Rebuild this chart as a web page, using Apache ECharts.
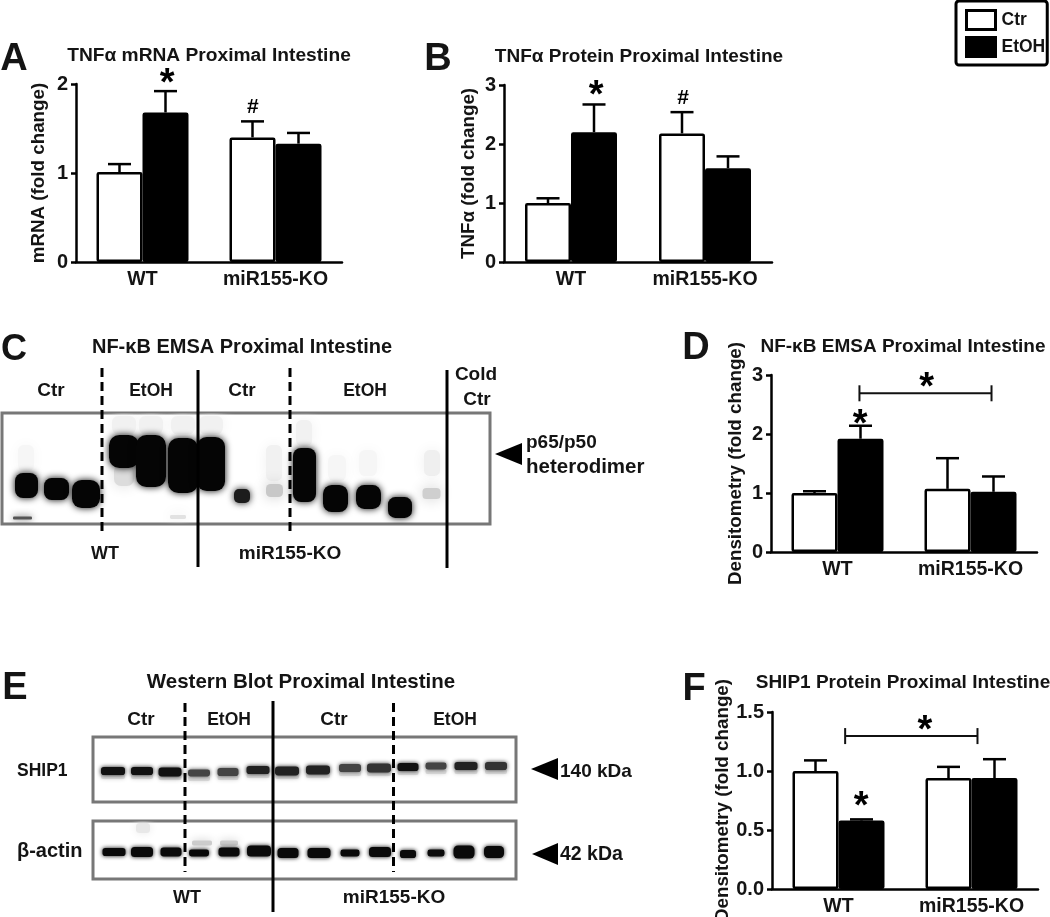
<!DOCTYPE html>
<html><head><meta charset="utf-8">
<style>html,body{margin:0;padding:0;background:#fff}#c{width:1050px;height:917px}</style>
<script src="https://cdn.jsdelivr.net/npm/echarts@6/dist/echarts.min.js"></script>
</head><body><div id="c"></div>
<script>
const categories = ['WT', 'miR155-KO'];
const seriesNames = ['Ctr', 'EtOH'];

// Bar values [WT, KO], and top of the error bars
const aCtr = [1.01, 1.40], aEtoh = [1.68, 1.33], aCtrErr = [1.10, 1.58], aEtohErr = [1.92, 1.45];
const bCtr = [1.00, 2.18], bEtoh = [2.20, 1.59], bCtrErr = [1.08, 2.54], bEtohErr = [2.67, 1.79];
const dCtr = [1.00, 1.07], dEtoh = [1.92, 1.02], dCtrErr = [1.03, 1.59], dEtohErr = [2.14, 1.28];
const fCtr = [1.00, 0.94], fEtoh = [0.58, 0.94], fCtrErr = [1.09, 1.035], fEtohErr = [0.59, 1.10];

// significance marks: [position between categories, value, text]
const aMarks = [[0.186, 2.09, '*'], [0.83, 1.74, '#']];
const bMarks = [[0.187, 2.95, '*'], [0.836, 2.78, '#']];
const dMarks = [[0.17, 2.29, '*'], [0.67, 2.92, '*']];
const fMarks = [[0.17, 0.77, '*'], [0.65, 1.41, '*']];
// brackets: [from, to, value]
const dBracket = [[0.165, 1.158, 2.69]];
const fBracket = [[0.05, 1.045, 1.296]];

// blot bands: [lane position, migration, width, height, grey level]
const emsaBands = [
 [122,12,24,18,'#f1f1f1'],[149,12,24,18,'#f1f1f1'],[181,12,24,18,'#f1f1f1'],[209,12,24,18,'#f1f1f1'],
 [24,45,16,26,'#f6f6f6'],[272,50,16,36,'#f1f1f1'],[302,20,16,26,'#f1f1f1'],[335,55,18,26,'#f6f6f6'],
 [366,50,18,26,'#f6f6f6'],[430,50,16,26,'#efefef'],[122,62,20,22,'#dcdcdc'],[176,104,16,4,'#e2e2e2'],
 [24.5,72.5,23,25,'#050505'],[54.5,76,25,22,'#050505'],[84,81,28,28,'#050505'],
 [122,38.5,30,33,'#050505'],[149,48,30,52,'#050505'],[181,52.5,30,55,'#050505'],[209,51,28,54,'#050505'],
 [240,83,16,14,'#1c1c1c'],[272.5,77.5,17,13,'#c8c8c8'],[302.5,62,23,54,'#050505'],
 [333.5,85.5,25,27,'#050505'],[366.5,84,25,24,'#050505'],[398,94.5,24,21,'#050505'],[429.5,80.5,18,11,'#cfcfcf'],
 [20.5,105,19,3,'#555555']
];
const shipBands = [
 [20,34,24,6,'#111'],[49,34,22,6,'#111'],[77,35,23,7,'#111'],[106,36,22,5,'#444'],[135,35,21,6,'#444'],
 [165,33,23,6,'#222'],[194,34,24,7,'#222'],[225,33,24,7,'#222'],[257,31,22,6,'#444'],[286,31,24,7,'#333'],
 [315,30,21,6,'#111'],[343,29,21,5,'#444'],[373,29,23,6,'#222'],[403,29,22,6,'#333']
];
const actinBands = [
 [50,7,14,8,'#e8e8e8'],[109,22,20,3,'#cccccc'],[136,22,18,3,'#cccccc'],
 [21,31,23,6,'#0a0a0a'],[49,31,22,8,'#0a0a0a'],[78,31,21,7,'#0a0a0a'],[106,32,20,5,'#0a0a0a'],
 [136,31,21,7,'#0a0a0a'],[166,30,24,9,'#0a0a0a'],[195,32,21,8,'#0a0a0a'],[226,32,23,8,'#0a0a0a'],
 [257,32,19,5,'#0a0a0a'],[287,31,22,8,'#0a0a0a'],[315,33,16,6,'#0a0a0a'],[343,32,17,5,'#0a0a0a'],
 [371,31,21,11,'#0a0a0a'],[401,31,20,10,'#0a0a0a']
];

const FONT = '"Liberation Sans", Arial, sans-serif';
const INK = '#141414';

const panels = [
 {left:76, top:84, width:266, height:178, max:2, interval:1, gap:28, name:'mRNA (fold change)', bw:46, ctr:aCtr, et:aEtoh, ctrE:aCtrErr, etE:aEtohErr, marks:aMarks, br:[], dec:0},
 {left:504, top:85, width:268, height:177, max:3, interval:1, gap:26, name:'TNFα (fold change)', bw:46, ctr:bCtr, et:bEtoh, ctrE:bCtrErr, etE:bEtohErr, marks:bMarks, br:[], dec:0},
 {left:771, top:375, width:266, height:177, max:3, interval:1, gap:26, name:'Densitometry (fold change)', bw:46, ctr:dCtr, et:dEtoh, ctrE:dCtrErr, etE:dEtohErr, marks:dMarks, br:dBracket, dec:0},
 {left:772, top:712, width:266, height:177, max:1.5, interval:0.5, gap:37, name:'Densitometry (fold change)', bw:46, ctr:fCtr, et:fEtoh, ctrE:fCtrErr, etE:fEtohErr, marks:fMarks, br:fBracket, dec:1}
];
const blots = [
 {left:2, top:413, width:488, height:111, bands:emsaBands, blur:7, grow:0},
 {left:93, top:737, width:423, height:65, bands:shipBands, blur:4, grow:2, ghost:true},
 {left:93, top:821, width:423, height:58, bands:actinBands, blur:4, grow:2}
];

const grid = [], xAxis = [], yAxis = [], series = [];
panels.forEach((p, i) => {
  grid.push({left:p.left, top:p.top, width:p.width, height:p.height, show:false, outerBoundsMode:'none', containLabel:false});
  xAxis.push({gridIndex:i, type:'category', data:categories,
    axisLine:{show:true, lineStyle:{color:'#000', width:2.5}}, axisTick:{show:false},
    axisLabel:{color:INK, fontFamily:FONT, fontWeight:'bold', fontSize:19.5, margin:8, interval:0}});
  yAxis.push({gridIndex:i, type:'value', min:0, max:p.max, interval:p.interval,
    name:p.name, nameLocation:'middle', nameGap:p.gap, nameRotate:90,
    nameTextStyle:{color:INK, fontFamily:FONT, fontWeight:'bold', fontSize:18.8},
    axisLine:{show:true, lineStyle:{color:'#000', width:2.5}},
    axisTick:{show:true, length:5, lineStyle:{color:'#000', width:2.5}},
    splitLine:{show:false},
    axisLabel:{color:INK, fontFamily:FONT, fontWeight:'bold', fontSize:20, margin:8,
      formatter:v => v.toFixed(p.dec)}});
  const barStyle = fill => ({color:fill, borderColor:'#000', borderWidth:2.5, borderRadius:1});
  series.push({name:seriesNames[0], type:'bar', xAxisIndex:i, yAxisIndex:i, data:p.ctr, barWidth:p.bw, barGap:'0%', itemStyle:barStyle('#fff'), silent:true});
  series.push({name:seriesNames[1], type:'bar', xAxisIndex:i, yAxisIndex:i, data:p.et, barWidth:p.bw, barGap:'0%', itemStyle:barStyle('#000'), silent:true});
  // error bars
  const errs = [];
  [0,1].forEach(c => { errs.push([c, -1, p.ctrE[c], p.ctr[c]]); errs.push([c, 1, p.etE[c], p.et[c]]); });
  series.push({type:'custom', name:'err'+i, xAxisIndex:i, yAxisIndex:i, silent:true, z:1,
    data:errs.map(e => [e[0], e[2]]),
    renderItem:(params, api) => {
      const e = errs[params.dataIndex];
      const x = api.coord([e[0], 0])[0] + e[1]*p.bw/2;
      const yTop = api.coord([e[0], e[2]])[1], yBase = api.coord([e[0], e[3]])[1];
      const hw = p.bw/4;
      const st = {stroke:'#000', lineWidth:2.5, fill:null};
      return {type:'group', children:[
        {type:'line', shape:{x1:x, y1:yTop, x2:x, y2:yBase}, style:st},
        {type:'line', shape:{x1:x-hw, y1:yTop, x2:x+hw, y2:yTop}, style:st}
      ]};
    }});
  // significance marks and brackets
  const at = (api, f) => { const a = api.coord([0,0])[0], b = api.coord([1,0])[0]; return a + (b-a)*f; };
  series.push({type:'custom', name:'sig'+i, xAxisIndex:i, yAxisIndex:i, silent:true, z:5,
    data:p.marks.map(m => [0, m[1]]),
    renderItem:(params, api) => {
      const m = p.marks[params.dataIndex];
      const star = m[2] === '*';
      return {type:'text', style:{x:at(api, m[0]), y:api.coord([0, m[1]])[1] + (star ? 9 : 0),
        text:m[2], fill:'#000', font:(star ? 'bold 38px ' : 'bold 21px ') + FONT, textAlign:'center', textVerticalAlign:'middle'}};
    }});
  if (p.br.length) series.push({type:'custom', name:'br'+i, xAxisIndex:i, yAxisIndex:i, silent:true, z:5,
    data:p.br.map(b => [0, b[2]]),
    renderItem:(params, api) => {
      const b = p.br[params.dataIndex];
      const x1 = at(api, b[0]), x2 = at(api, b[1]), y = api.coord([0, b[2]])[1];
      const st = {stroke:'#111', lineWidth:2, fill:null};
      return {type:'group', children:[
        {type:'line', shape:{x1, y1:y, x2, y2:y}, style:st},
        {type:'line', shape:{x1, y1:y-8, x2:x1, y2:y+8}, style:st},
        {type:'line', shape:{x1:x2, y1:y-8, x2, y2:y+8}, style:st}
      ]};
    }});
});
const isLight = c => c.length === 7 && parseInt(c.slice(1,3),16) > 0xb0;
blots.forEach((b, k) => {
  const i = panels.length + k;
  grid.push({left:b.left, top:b.top, width:b.width, height:b.height, show:true, backgroundColor:'#fff', borderColor:'#777', borderWidth:3, outerBoundsMode:'none'});
  xAxis.push({gridIndex:i, type:'value', min:0, max:b.width, show:false});
  yAxis.push({gridIndex:i, type:'value', min:0, max:b.height, inverse:true, show:false, splitLine:{show:false}});
  series.push({type:'custom', name:'blot'+k, xAxisIndex:i, yAxisIndex:i, silent:true, z:2, clip:true,
    data:b.bands.map(r => [r[0], r[1]]),
    renderItem:(params, api) => {
      const r = b.bands[params.dataIndex];
      const c = api.coord([r[0], r[1]]);
      const w = r[2], h = r[3] + b.grow;
      const light = isLight(r[4]);
      const main = {type:'rect', shape:{x:c[0]-w/2, y:c[1]-h/2, width:w, height:h, r:Math.min(w,h)*0.35},
        style:{fill:r[4], shadowColor:r[4], shadowBlur:light ? b.blur*2 : b.blur}};
      if (!b.ghost) return main;
      return {type:'group', children:[
        {type:'rect', shape:{x:c[0]-w/2, y:c[1]+3, width:w, height:5, r:2}, style:{fill:'#d8d8d8', shadowColor:'#d8d8d8', shadowBlur:4}},
        main]};
    }});
});

// text and drawn annotations around the panels
const txt = (x, y, text, size, align) => ({type:'text', z:50, silent:true, style:{x, y, text, fill:INK,
  font:'bold '+size+'px '+FONT, textAlign:align||'center', textVerticalAlign:'middle'}});
const vline = (x, y1, y2, dash) => ({type:'line', z:40, silent:true, shape:{x1:x, y1, x2:x, y2},
  style:{stroke:'#000', lineWidth:3, lineDash:dash ? [9,5] : null}});
const tri = (tipX, baseX, cy, half) => ({type:'polygon', z:40, silent:true,
  shape:{points:[[tipX,cy],[baseX,cy-half],[baseX,cy+half]]}, style:{fill:'#000'}});

const graphicEls = [
  txt(14,60,'A',38), txt(438,60,'B',38), txt(14,350,'C',36), txt(696,349,'D',38), txt(15,689,'E',38), txt(694,690,'F',38),
  vline(102,368,535,true), vline(198,370,567), vline(290,368,535,true), vline(447,370,568),
  txt(51,391,'Ctr',19), txt(151,391,'EtOH',17.5), txt(242,391,'Ctr',19), txt(365,391,'EtOH',17.5),
  txt(476,375,'Cold',19), txt(477,400,'Ctr',19), txt(105,554,'WT',18), txt(290,554,'miR155-KO',19),
  tri(495,522,454,11), txt(526,443,'p65/p50',19,'left'), txt(526,467,'heterodimer',20.5,'left'),
  vline(185,703,872,true), vline(273,701,912), vline(393.5,703,872,true),
  txt(141,720,'Ctr',19), txt(229,720,'EtOH',17.5), txt(334,720,'Ctr',19), txt(455,720,'EtOH',17.5),
  txt(17,771,'SHIP1',17.5,'left'), txt(17,851,'β-actin',20,'left'), txt(187,898,'WT',18), txt(394,898,'miR155-KO',19),
  tri(531,558,769,11), txt(560,772,'140 kDa',19,'left'), tri(532,558,854,11), txt(560,855,'42 kDa',19.5,'left')
];
const ttl = (cx, y, text, size) => ({text, left:cx, top:y, textAlign:'center', textVerticalAlign:'middle', padding:0,
  textStyle:{color:INK, fontFamily:FONT, fontWeight:'bold', fontSize:size}});

const chart = echarts.init(document.getElementById('c'), null, {renderer:'canvas'});
chart.setOption({
  animation:false, backgroundColor:'#fff',
  title:[ttl(209,56,'TNFα mRNA Proximal Intestine',19.2), ttl(639,57,'TNFα Protein Proximal Intestine',19),
         ttl(242,347,'NF-κB EMSA Proximal Intestine',20), ttl(903,347,'NF-κB EMSA Proximal Intestine',19),
         ttl(301,682,'Western Blot Proximal Intestine',20.5), ttl(903,683,'SHIP1 Protein Proximal Intestine',19)],
  legend:{data:seriesNames, orient:'vertical', left:956, top:1, padding:[8,2,7,9], itemWidth:29, itemHeight:19, itemGap:5,
    icon:'rect', borderColor:'#000', borderWidth:3, borderRadius:3, selectedMode:false,
    itemStyle:{borderWidth:3},
    textStyle:{color:INK, fontFamily:FONT, fontWeight:'bold', fontSize:17.5, padding:[0,0,0,1]}},
  grid, xAxis, yAxis, series, graphic:graphicEls
});
</script></body></html>
